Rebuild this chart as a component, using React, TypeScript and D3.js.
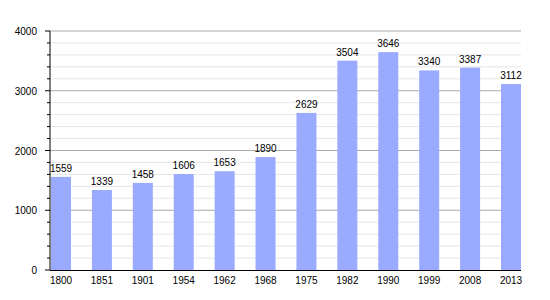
import React from "react";
import * as d3 from "d3";

const years = ["1800","1851","1901","1954","1962","1968","1975","1982","1990","1999","2008","2013"];
const population = [1559,1339,1458,1606,1653,1890,2629,3504,3646,3340,3387,3112];
const majorTicks = [0,1000,2000,3000,4000];
const minorTicks = d3.range(0, 4001, 200);

const W = 550, H = 300;
const left = 50, right = 521, top = 31, bottom = 270;

export default function App() {
  const y = d3.scaleLinear().domain([0, 4000]).range([bottom, top]);
  const x = d3.scaleBand().domain(years).range([left + 1 - 10, right + 10]).paddingInner(0.5).paddingOuter(0);
  // adjust so first bar starts at left+1 and last ends at right
  const step = (right - (left + 1) - 20) / (years.length - 1);
  const bx = d3.scalePoint().domain(years).range([left + 1, left + 1 + step * (years.length - 1)]);
  const bw = 20;
  void x;
  return (
    <svg width={W} height={H} style={{ position: "absolute", left: 0, top: 0, fontFamily: "Liberation Sans, Arial, sans-serif" }}>
      <rect width={W} height={H} fill="#fff" />
      {minorTicks.filter(t => t % 1000 !== 0).map(t => (
        <g key={"m" + t}>
          <line x1={left} x2={right} y1={y(t)} y2={y(t)} stroke="#e6e6e6" strokeWidth={1} />
          <line x1={left - 3} x2={left} y1={y(t)} y2={y(t)} stroke="#000" strokeWidth={1} />
        </g>
      ))}
      {majorTicks.map(t => (
        <g key={"M" + t}>
          {t > 0 && <line x1={left} x2={right} y1={y(t)} y2={y(t)} stroke="#aaaaaa" strokeWidth={1} />}
          <line x1={left - 5} x2={left} y1={y(t)} y2={y(t)} stroke="#000" strokeWidth={1} />
          <text x={37} y={y(t) + 4} textAnchor="end" fontSize={10} fill="#000">{t}</text>
        </g>
      ))}
      {years.map((yr, i) => {
        const x0 = bx(yr)!;
        const v = population[i];
        return (
          <g key={yr}>
            <rect x={x0} y={y(v)} width={bw} height={bottom - y(v)} fill="#99aaff" />
            <text x={x0 + bw / 2} y={y(v) - 5} textAnchor="middle" fontSize={10} fill="#000">{v}</text>
            <text x={x0 + bw / 2} y={284} textAnchor="middle" fontSize={10} fill="#000">{yr}</text>
          </g>
        );
      })}
      <line x1={left} x2={left} y1={top} y2={bottom} stroke="#000" strokeWidth={1} />
      <line x1={left} x2={right} y1={bottom + 0.5} y2={bottom + 0.5} stroke="#000" strokeWidth={1} />
    </svg>
  );
}
